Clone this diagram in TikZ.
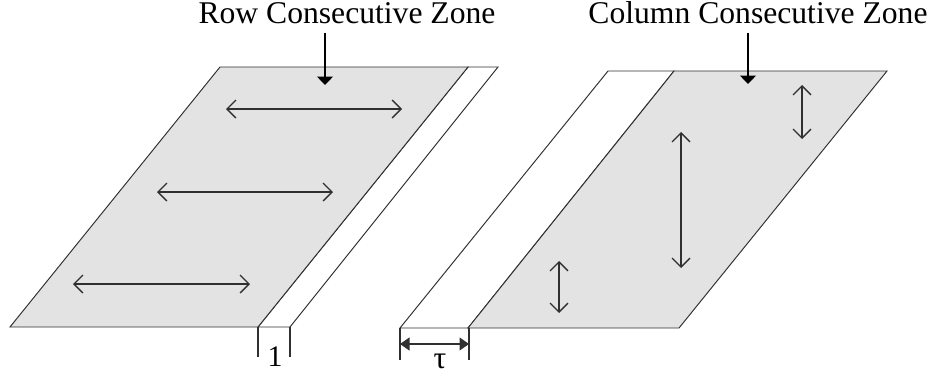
\documentclass[tikz,border=0pt]{standalone}
\usepackage{fontspec}
\setmainfont{Liberation Serif}
\usetikzlibrary{arrows.meta,positioning,calc}
\definecolor{zonagris}{HTML}{E3E3E3}
\definecolor{trazo}{HTML}{303030}
\tikzset{
    zona/.style={
        draw=trazo,               % borde gris muy oscuro
        fill=#1,                  % relleno de la franja (gris o blanco)
        line width=0.55pt         % trazo fino como en la figura
    },
    dobleflecha/.style={
        draw=trazo,
        line width=0.75pt,        % un poco más grueso que el borde
        {Straight Barb[length=1.8mm,width=3.6mm]}-{Straight Barb[length=1.8mm,width=3.6mm]}
    },
    indicador/.style={
        draw=black,
        line width=0.75pt,
        -{Triangle[length=1.7mm,width=3.2mm]} % punta rellena hacia la zona
    },
    cota/.style={
        draw=trazo,
        line width=0.6pt          % líneas de referencia de la medida
    },
    titulo/.style={
        font=\fontsize{18}{21}\selectfont, % rótulo superior
        inner sep=0pt,
        anchor=base               % se coloca por la línea base
    }
}

\begin{document}
\begin{tikzpicture}[x=0.02cm,y=-0.02cm]
    \useasboundingbox (0,0) rectangle (936,376);

    % bloque izquierdo: zona consecutiva por filas
    \draw[zona=white] (258,327) -- (468,67) -- (498,67) -- (290,327) -- cycle;
    \draw[zona=zonagris] (10,327) -- (220,67) -- (468,67) -- (258,327) -- cycle;
    \draw[dobleflecha] (226,109) -- (402,109);
    \draw[dobleflecha] (157,192) -- (333,192);
    \draw[dobleflecha] (73,284) -- (250,284);

    % bloque derecho: zona consecutiva por columnas
    \draw[zona=white] (400,328) -- (608,71) -- (674,71) -- (468,328) -- cycle;
    \draw[zona=zonagris] (468,328) -- (674,71) -- (887,71) -- (679,328) -- cycle;
    \draw[dobleflecha] (802,85) -- (802,139);
    \draw[dobleflecha] (681,132) -- (681,268);
    \draw[dobleflecha] (559,261) -- (559,313);

    % rótulos y flechas indicadoras
    \node[titulo] (rowzone) at (347,23) {Row Consecutive Zone};
    \node[titulo] (colzone) at (758,23) {Column Consecutive Zone};
    \coordinate (rowtip) at (325,85);
    \coordinate (coltip) at (748,84);
    \draw[indicador] (rowzone.south -| rowtip) ++(0,9) -- (rowtip);
    \draw[indicador] (colzone.south -| coltip) ++(0,9) -- (coltip);

    % cotas inferiores
    \coordinate (a1) at (258,327);
    \coordinate (b1) at (290,327);
    \draw[cota] (a1) -- ++(0,30);
    \draw[cota] (b1) -- ++(0,30);
    \node[font=\fontsize{17}{20}\selectfont, inner sep=0pt, anchor=base] (ancho) at (275,366) {1};

    \coordinate (a2) at (400,328);
    \coordinate (b2) at (469,328);
    \draw[cota] (a2) -- ++(0,32);
    \draw[cota] (b2) -- ++(0,32);
    \draw[cota, {Triangle[length=1.9mm,width=2.6mm]}-{Triangle[length=1.9mm,width=2.6mm]}] ($(a2)+(0,16)$) -- ($(b2)+(0,16)$);
    \node[font=\fontsize{18}{21}\selectfont, inner sep=0pt, anchor=base] (tau) at (440,368) {τ};
\end{tikzpicture}
\end{document}
